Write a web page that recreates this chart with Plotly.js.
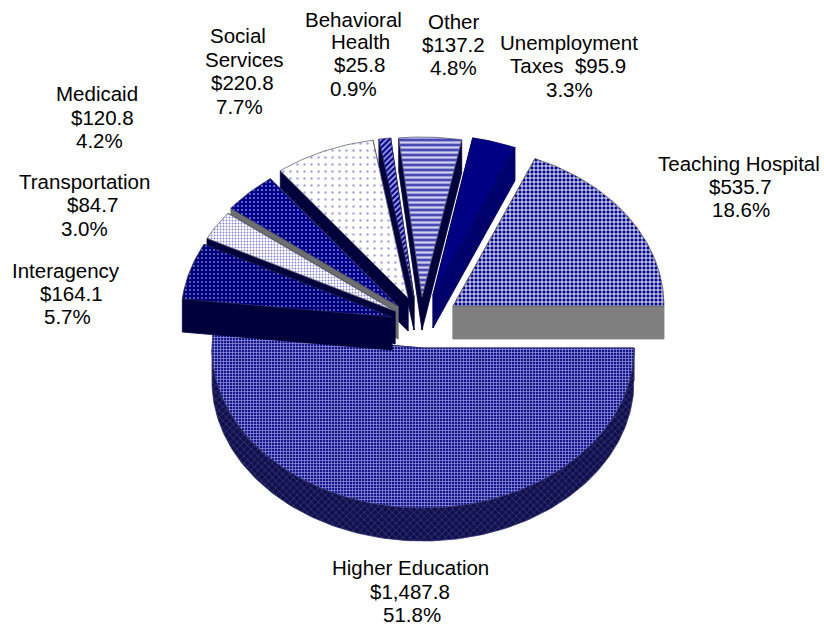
<!DOCTYPE html>
<html>
<head>
<meta charset="utf-8">
<script src="https://cdn.plot.ly/plotly-3.0.1.min.js"></script>
<style>html,body{margin:0;padding:0;background:#fff}#chart{width:824px;height:626px}</style>
</head>
<body>
<div id="chart"></div>
<script>
// Budget shares, listed counter-clockwise from the east edge of the pie.
const categories = ["Teaching Hospital","Unemployment Taxes","Other","Behavioral Health","Social Services","Medicaid","Transportation","Interagency","Higher Education"];
const amounts = [535.7,95.9,137.2,25.8,220.8,120.8,84.7,164.1,1487.8];
const amountLabels = ["$535.7","$95.9","$137.2","$25.8","$220.8","$120.8","$84.7","$164.1","$1,487.8"];
const percentLabels = ["18.6%","3.3%","4.8%","0.9%","7.7%","4.2%","3.0%","5.7%","51.8%"];

// Label text, wrapped per slice.
const labelLines = [
  ["Teaching Hospital", amountLabels[0], percentLabels[0]],
  ["Unemployment", "Taxes  " + amountLabels[1], percentLabels[1]],
  ["Other", amountLabels[2], percentLabels[2]],
  ["Behavioral", "Health", amountLabels[3], percentLabels[3]],
  ["Social", "Services", amountLabels[4], percentLabels[4]],
  ["Medicaid", amountLabels[5], percentLabels[5]],
  ["Transportation", amountLabels[6], percentLabels[6]],
  ["Interagency", amountLabels[7], percentLabels[7]],
  ["Higher Education", amountLabels[8], percentLabels[8]]
];
// Centre of each label line.
const lineX = [
  [739,740,741],[569,568,569],[453,453,453],[353,360,359,353],[238,244,242,239],
  [97,102,99],[84,92,84],[66,71,67],[410,410,412]
];
const lineY = [
  [163,186,209],[42,65,89],[21,44,67],[19,41,64,88],[35,59,82,106],
  [93,117,140],[181,204,228],[270,293,316],[567,591,614]
];

// Exploded wedge apex for each slice, in plot units.
const apexX = [453,433,422,414,408,398,395,392,423];
const apexY = [306,295,297,297,298,306,311,317,348];

const RX = 211, RY = 160, DEPTH = 33;

const faces = [
  {shape:"+", fgcolor:"#ffffff", bgcolor:"#00008c", size:4, solidity:0.42},
  null,
  {shape:"-", fgcolor:"#d0d0f0", bgcolor:"#4a4ab4", size:5, solidity:0.45},
  {shape:"/", fgcolor:"#b0b0e8", bgcolor:"#000090", size:4, solidity:0.4},
  {shape:".", fgcolor:"#a4a4e4", bgcolor:"#ffffff", size:7, solidity:0.1},
  {shape:".", fgcolor:"#7a7ad0", bgcolor:"#00008a", size:4, solidity:0.22},
  {shape:".", fgcolor:"#8080d8", bgcolor:"#ffffff", size:3, solidity:0.3},
  {shape:".", fgcolor:"#7474c4", bgcolor:"#00007c", size:4, solidity:0.2},
  {shape:"+", fgcolor:"#8c8cd4", bgcolor:"#14148e", size:3, solidity:0.45}
];
const rimPattern = {shape:"x", fgcolor:"#44447e", bgcolor:"#10104e", size:5, solidity:0.22};
const solidColor = "#000084";
const sideColors = ["#7f7f7f","#00006c","#00003c","#00003c","#00003c","#6e6e6e","#00003c","#00003c","#00003c"];
const edgeColors = ["#555566","#00005a","#555577","#333366","#666677","#333366","#666677","#222255","#333377"];

// Back-to-front paint order.
const paintOrder = [8,2,1,3,4,5,6,7,0];

const total = amounts.reduce((a,b)=>a+b,0);
const startAngles = [];
amounts.reduce((sum,v,i)=>{startAngles[i]=sum/total*2*Math.PI;return sum+v;},0);

function arcPoints(i){
  const a0 = startAngles[i], a1 = a0 + amounts[i]/total*2*Math.PI;
  const n = Math.max(4, Math.ceil((a1-a0)/0.02));
  const xs = [], ys = [];
  for(let k=0;k<=n;k++){
    const a = a0 + (a1-a0)*k/n;
    xs.push(apexX[i] + RX*Math.cos(a));
    ys.push(apexY[i] - RY*Math.sin(a));
  }
  return {xs,ys};
}

function polyTrace(xs, ys, fillcolor, pattern, edge, name){
  const t = {type:"scatter", mode:"lines", x:xs.concat(xs[0]), y:ys.concat(ys[0]), fill:"toself",
    fillcolor:fillcolor, line:{color:edge, width:0.8}, hoverinfo:"text", text:name, showlegend:false};
  if(pattern) t.fillpattern = pattern;
  return t;
}

const traces = [];
paintOrder.forEach(i=>{
  const {xs,ys} = arcPoints(i);
  const ax = apexX[i], ay = apexY[i], last = xs.length-1;
  const name = categories[i];
  const side = sideColors[i];
  // Cut faces running from the apex to either end of the arc.
  [0,last].forEach(e=>{
    traces.push(polyTrace([ax,xs[e],xs[e],ax],[ay,ys[e],ys[e]+DEPTH,ay+DEPTH],side,null,side,name));
  });
  // Rim below the pie's front half.
  if(i === 8){
    const rimX = [], rimY = [];
    xs.forEach((x,k)=>{ if(ys[k] >= ay-0.01){ rimX.push(x); rimY.push(ys[k]); } });
    const rx = rimX.concat(rimX.slice().reverse());
    const ry = rimY.concat(rimY.slice().reverse().map(v=>v+DEPTH));
    traces.push(polyTrace(rx,ry,"#14145c",rimPattern,"#2a2a66",name));
  }
  // Top face.
  const face = faces[i];
  traces.push(polyTrace([ax].concat(xs),[ay].concat(ys),face?face.bgcolor:solidColor,face,edgeColors[i],name));
});

const annotations = [];
labelLines.forEach((lines,i)=>{
  lines.forEach((line,j)=>{
    annotations.push({
      x:lineX[i][j], y:lineY[i][j], xref:"x", yref:"y", text:line,
      showarrow:false, xanchor:"center", yanchor:"middle", align:"center",
      font:{family:"Liberation Sans, Arial, sans-serif", size:20.5, color:"#000"}
    });
  });
});

const hidden = {visible:false, fixedrange:true};
Plotly.newPlot("chart", traces, {
  width:824, height:626, margin:{l:0,r:0,t:0,b:0},
  paper_bgcolor:"#fff", plot_bgcolor:"#fff", showlegend:false,
  xaxis:Object.assign({range:[0,824]},hidden),
  yaxis:Object.assign({range:[626,0]},hidden),
  annotations
}, {displayModeBar:false, staticPlot:true});
</script>
</body>
</html>
